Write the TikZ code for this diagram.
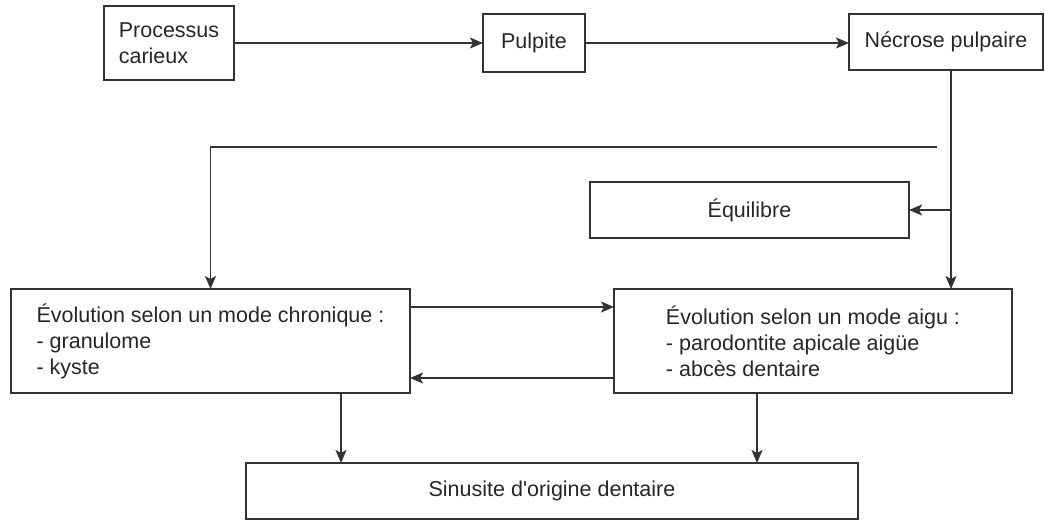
\documentclass[tikz,border=0pt]{standalone}
\usepackage{fontspec}
\setmainfont{Liberation Sans}
\usetikzlibrary{arrows.meta}
\tikzset{
	etape/.style={draw=black!80, line width=1.8pt, inner sep=0pt, outer sep=0pt, align=left, text=black!85, font=\fontsize{21.5}{26}\selectfont},
	fleche/.style={draw=black!80, line width=1.7pt, -{Stealth[length=13pt,width=11pt,inset=3pt]}},
}

\begin{document}
\begin{tikzpicture}[x=1pt,y=-1pt]
			%%%%% START %%%%%
			\useasboundingbox (0,0) rectangle (1045,520);
			
			\node[etape, minimum width=130pt, minimum height=74pt] (carieux) at (169,43) {Processus\\carieux};
			\node[etape, minimum width=102pt, minimum height=58pt] (pulpite) at (534,43) {Pulpite};
			\node[etape, minimum width=194pt, minimum height=56pt] (necrose) at (946,42) {Nécrose pulpaire};
			
			\node[etape, minimum width=319pt, minimum height=56pt] (equilibre) at (749.5,210) {Équilibre};
			
			\node[etape, minimum width=399pt, minimum height=104pt] (chronique) at (210.5,341) {Évolution selon un mode chronique :\\- granulome\\- kyste};
			\node[etape, minimum width=398pt, minimum height=104pt] (aigu) at (813,341) {Évolution selon un mode aigu :\\- parodontite apicale aigüe\\- abcès dentaire};
			
			\node[etape, minimum width=612pt, minimum height=56pt] (sinusite) at (552,491) {Sinusite d\textquotesingle origine dentaire};
			
			\coordinate (col) at (951,70);
			\coordinate (branche) at (937,147);
			
			\draw[fleche] (carieux.east) -- (pulpite.west);
			\draw[fleche] (pulpite.east) -- (pulpite.east -| necrose.west);
			
			\draw[fleche] (col) -- (col |- aigu.north);
			\draw[fleche] (col |- equilibre.east) -- (equilibre.east);
			\draw[fleche] (branche) -| (chronique.north);
			
			\draw[fleche] ([yshift=34pt]chronique.east) -- ([yshift=34pt]aigu.west);
			\draw[fleche] ([yshift=-37pt]aigu.west) -- ([yshift=-37pt]chronique.east);
			
			\draw[fleche] ([xshift=130.5pt]chronique.south) -- ([xshift=130.5pt]chronique.south |- sinusite.north);
			\draw[fleche] ([xshift=-56pt]aigu.south) -- ([xshift=-56pt]aigu.south |- sinusite.north);
			
			%%%%% END %%%%%
\end{tikzpicture}
\end{document}
